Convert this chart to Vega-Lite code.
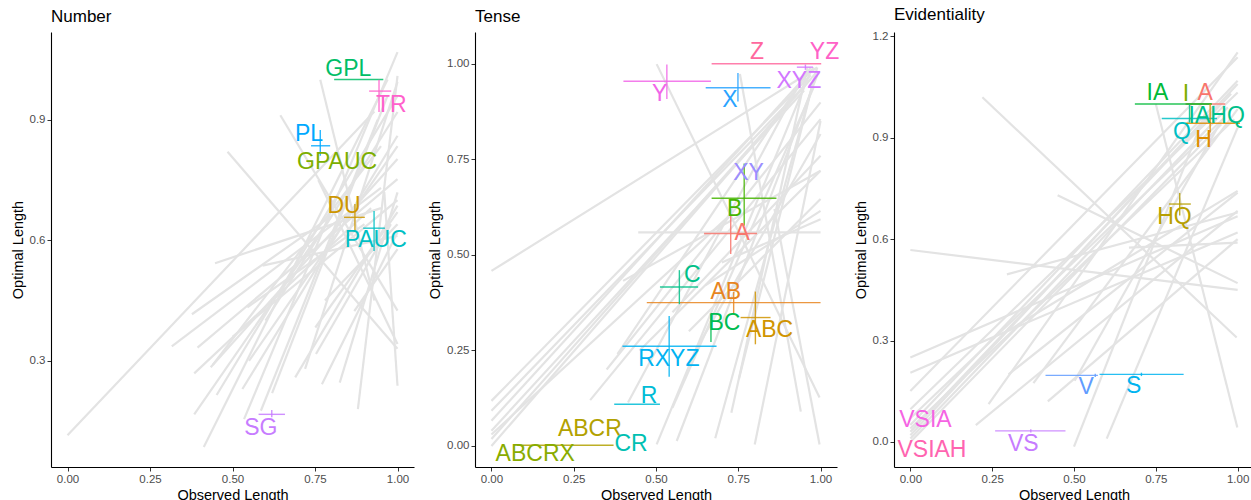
{
 "$schema": "https://vega.github.io/schema/vega-lite/v6.json",
 "padding": {"left": 10, "top": 6, "right": 0, "bottom": 0},
 "config": {
  "font": "Liberation Sans",
  "view": {"stroke": null},
  "axis": {"grid": false, "domainColor": "#000000", "domainWidth": 1.1, "tickColor": "#333333", "tickSize": 4, "labelColor": "#4D4D4D", "labelFontSize": 11.5, "titleFontSize": 14.5, "titleFontWeight": "normal", "titleColor": "#000000", "labelPadding": 2, "titlePadding": 4},
  "title": {"anchor": "start", "fontSize": 17, "fontWeight": "normal", "frame": "group", "offset": 6, "color": "#000000"},
  "concat": {"spacing": 13}
 },
 "datasets": {
  "l1": [
   {"x1":0.0,"y1":0.115,"x2":0.93,"y2":0.92},
   {"x1":0.316,"y1":0.336,"x2":0.95,"y2":0.73},
   {"x1":0.394,"y1":0.333,"x2":1.0,"y2":0.752},
   {"x1":0.384,"y1":0.269,"x2":0.92,"y2":0.68},
   {"x1":0.434,"y1":0.284,"x2":1.0,"y2":0.802},
   {"x1":0.44,"y1":0.29,"x2":0.95,"y2":0.834},
   {"x1":0.384,"y1":0.167,"x2":0.80,"y2":0.66},
   {"x1":0.452,"y1":0.215,"x2":1.0,"y2":0.959},
   {"x1":0.413,"y1":0.086,"x2":0.97,"y2":1.0},
   {"x1":0.53,"y1":0.23,"x2":1.0,"y2":0.86},
   {"x1":0.535,"y1":0.155,"x2":1.0,"y2":1.068},
   {"x1":0.586,"y1":0.176,"x2":0.94,"y2":0.90},
   {"x1":0.69,"y1":0.259,"x2":1.0,"y2":0.686},
   {"x1":0.771,"y1":0.242,"x2":1.0,"y2":0.62},
   {"x1":0.825,"y1":0.246,"x2":1.0,"y2":0.719},
   {"x1":0.88,"y1":0.18,"x2":1.0,"y2":1.009},
   {"x1":0.753,"y1":0.317,"x2":0.98,"y2":0.64},
   {"x1":0.751,"y1":0.383,"x2":1.0,"y2":0.67},
   {"x1":1.0,"y1":0.238,"x2":0.96,"y2":0.72},
   {"x1":1.0,"y1":0.342,"x2":0.76,"y2":0.75},
   {"x1":0.869,"y1":0.424,"x2":1.0,"y2":0.578},
   {"x1":0.447,"y1":0.543,"x2":0.95,"y2":0.68},
   {"x1":0.377,"y1":0.416,"x2":0.80,"y2":0.66},
   {"x1":0.545,"y1":0.433,"x2":0.9,"y2":0.64},
   {"x1":0.591,"y1":0.537,"x2":1.0,"y2":0.611},
   {"x1":0.485,"y1":0.82,"x2":1.0,"y2":0.33},
   {"x1":0.645,"y1":0.911,"x2":1.0,"y2":0.425},
   {"x1":0.766,"y1":0.999,"x2":0.93,"y2":0.45},
   {"x1":0.55,"y1":0.30,"x2":1.0,"y2":0.834},
   {"x1":0.60,"y1":0.40,"x2":1.0,"y2":0.919},
   {"x1":0.72,"y1":0.28,"x2":1.0,"y2":0.994},
   {"x1":0.62,"y1":0.22,"x2":0.97,"y2":0.96},
   {"x1":0.50,"y1":0.36,"x2":1.0,"y2":0.70},
   {"x1":0.78,"y1":0.45,"x2":1.0,"y2":0.64}
  ],
  "p1": [
   {"label":"DU","x":0.871,"y":0.657,"xmin":0.838,"xmax":0.901,"ymin":0.624,"ymax":0.69,"lx":0.838,"ly":0.685},
   {"label":"GPAUC","x":0.766,"y":0.835,"xmin":0.766,"xmax":0.766,"ymin":0.835,"ymax":0.835,"lx":0.817,"ly":0.795},
   {"label":"GPL","x":0.88,"y":1.0,"xmin":0.808,"xmax":0.957,"ymin":1.0,"ymax":1.0,"lx":0.851,"ly":1.026},
   {"label":"PAUC","x":0.929,"y":0.63,"xmin":0.896,"xmax":0.962,"ymin":0.573,"ymax":0.673,"lx":0.934,"ly":0.601},
   {"label":"PL","x":0.766,"y":0.835,"xmin":0.738,"xmax":0.796,"ymin":0.81,"ymax":0.874,"lx":0.732,"ly":0.864},
   {"label":"SG","x":0.619,"y":0.167,"xmin":0.579,"xmax":0.659,"ymin":0.16,"ymax":0.178,"lx":0.586,"ly":0.134},
   {"label":"TR","x":0.944,"y":0.971,"xmin":0.914,"xmax":0.981,"ymin":0.919,"ymax":0.999,"lx":0.981,"ly":0.937}
  ],
  "l2": [
   {"x1":0.0,"y1":0.458,"x2":0.99,"y2":0.99},
   {"x1":0.0,"y1":0.118,"x2":0.97,"y2":0.97},
   {"x1":0.0,"y1":0.092,"x2":0.96,"y2":0.95},
   {"x1":0.0,"y1":0.066,"x2":0.98,"y2":0.99},
   {"x1":0.0,"y1":0.04,"x2":0.95,"y2":0.93},
   {"x1":0.0,"y1":0.018,"x2":0.97,"y2":0.96},
   {"x1":0.0,"y1":0.0,"x2":0.99,"y2":0.98},
   {"x1":0.0,"y1":0.03,"x2":0.72,"y2":0.60},
   {"x1":0.502,"y1":0.004,"x2":0.97,"y2":0.98},
   {"x1":0.563,"y1":0.013,"x2":0.99,"y2":0.97},
   {"x1":0.729,"y1":0.087,"x2":0.96,"y2":0.99},
   {"x1":0.752,"y1":0.175,"x2":0.98,"y2":0.96},
   {"x1":0.415,"y1":0.114,"x2":0.95,"y2":0.97},
   {"x1":0.383,"y1":0.24,"x2":0.97,"y2":0.99},
   {"x1":0.40,"y1":0.432,"x2":1.0,"y2":0.72},
   {"x1":0.446,"y1":0.559,"x2":1.0,"y2":0.559},
   {"x1":0.502,"y1":0.999,"x2":0.997,"y2":0.127},
   {"x1":0.755,"y1":0.973,"x2":0.94,"y2":0.09},
   {"x1":0.80,"y1":0.004,"x2":1.0,"y2":0.85},
   {"x1":0.997,"y1":0.004,"x2":0.86,"y2":0.62},
   {"x1":0.60,"y1":0.30,"x2":1.0,"y2":0.646},
   {"x1":0.55,"y1":0.35,"x2":1.0,"y2":0.759},
   {"x1":0.45,"y1":0.25,"x2":1.0,"y2":0.72},
   {"x1":0.65,"y1":0.42,"x2":1.0,"y2":0.615},
   {"x1":0.70,"y1":0.48,"x2":1.0,"y2":0.593},
   {"x1":0.30,"y1":0.12,"x2":1.0,"y2":0.855},
   {"x1":0.35,"y1":0.20,"x2":1.0,"y2":0.899},
   {"x1":0.62,"y1":0.25,"x2":1.0,"y2":0.816},
   {"x1":0.55,"y1":0.10,"x2":0.98,"y2":0.94},
   {"x1":0.68,"y1":0.02,"x2":0.99,"y2":0.99}
  ],
  "p2": [
   {"label":"A","x":0.727,"y":0.556,"xmin":0.646,"xmax":0.807,"ymin":0.502,"ymax":0.602,"lx":0.762,"ly":0.557},
   {"label":"AB","x":0.736,"y":0.375,"xmin":0.472,"xmax":1.0,"ymin":0.345,"ymax":0.403,"lx":0.712,"ly":0.404},
   {"label":"ABC","x":0.802,"y":0.336,"xmin":0.757,"xmax":0.848,"ymin":0.266,"ymax":0.404,"lx":0.845,"ly":0.303},
   {"label":"ABCR","x":0.23,"y":0.002,"xmin":0.078,"xmax":0.371,"ymin":0.002,"ymax":0.002,"lx":0.299,"ly":0.045},
   {"label":"ABCRX","x":0.02,"y":0.0,"xmin":0.02,"xmax":0.02,"ymin":0.0,"ymax":0.0,"lx":0.133,"ly":-0.02},
   {"label":"B","x":0.768,"y":0.648,"xmin":0.669,"xmax":0.866,"ymin":0.576,"ymax":0.739,"lx":0.739,"ly":0.621},
   {"label":"BC","x":0.667,"y":0.309,"xmin":0.667,"xmax":0.667,"ymin":0.272,"ymax":0.345,"lx":0.708,"ly":0.323},
   {"label":"C","x":0.571,"y":0.416,"xmin":0.512,"xmax":0.628,"ymin":0.371,"ymax":0.46,"lx":0.61,"ly":0.446},
   {"label":"CR","x":0.37,"y":0.002,"xmin":0.37,"xmax":0.37,"ymin":0.002,"ymax":0.002,"lx":0.424,"ly":0.006},
   {"label":"R","x":0.441,"y":0.109,"xmin":0.373,"xmax":0.512,"ymin":0.109,"ymax":0.109,"lx":0.479,"ly":0.13},
   {"label":"RXYZ","x":0.54,"y":0.261,"xmin":0.398,"xmax":0.684,"ymin":0.181,"ymax":0.34,"lx":0.539,"ly":0.228},
   {"label":"X","x":0.749,"y":0.937,"xmin":0.651,"xmax":0.848,"ymin":0.901,"ymax":0.976,"lx":0.725,"ly":0.906},
   {"label":"XY","x":0.77,"y":0.74,"xmin":0.77,"xmax":0.77,"ymin":0.74,"ymax":0.74,"lx":0.781,"ly":0.715},
   {"label":"XYZ","x":0.954,"y":0.991,"xmin":0.928,"xmax":0.977,"ymin":0.984,"ymax":0.998,"lx":0.934,"ly":0.955},
   {"label":"Y","x":0.533,"y":0.954,"xmin":0.401,"xmax":0.667,"ymin":0.908,"ymax":0.998,"lx":0.511,"ly":0.921},
   {"label":"YZ","x":1.0,"y":1.0,"xmin":1.0,"xmax":1.0,"ymin":1.0,"ymax":1.0,"lx":1.012,"ly":1.03},
   {"label":"Z","x":0.83,"y":1.0,"xmin":0.669,"xmax":1.002,"ymin":1.0,"ymax":1.0,"lx":0.807,"ly":1.03}
  ],
  "l3": [
   {"x1":0.22,"y1":1.02,"x2":0.997,"y2":0.309},
   {"x1":0.0,"y1":0.568,"x2":1.0,"y2":0.45},
   {"x1":0.295,"y1":0.496,"x2":1.0,"y2":0.679},
   {"x1":0.0,"y1":0.25,"x2":1.0,"y2":0.668},
   {"x1":0.0,"y1":0.205,"x2":1.0,"y2":0.62},
   {"x1":0.0,"y1":0.151,"x2":1.0,"y2":1.138},
   {"x1":0.239,"y1":0.112,"x2":1.0,"y2":1.153},
   {"x1":0.376,"y1":0.174,"x2":1.0,"y2":0.985},
   {"x1":0.5,"y1":-0.014,"x2":0.9,"y2":0.97},
   {"x1":0.6,"y1":0.01,"x2":1.0,"y2":0.93},
   {"x1":0.75,"y1":1.0,"x2":0.999,"y2":0.043},
   {"x1":0.502,"y1":0.181,"x2":0.95,"y2":0.95},
   {"x1":0.668,"y1":0.575,"x2":1.0,"y2":0.59},
   {"x1":0.3,"y1":0.33,"x2":1.0,"y2":0.743},
   {"x1":0.45,"y1":0.73,"x2":1.0,"y2":0.47},
   {"x1":0.0,"y1":0.097,"x2":1.0,"y2":1.034},
   {"x1":0.0,"y1":0.01,"x2":0.97,"y2":0.99},
   {"x1":0.0,"y1":0.03,"x2":0.98,"y2":1.03},
   {"x1":0.0,"y1":0.05,"x2":1.0,"y2":1.069},
   {"x1":0.0,"y1":0.07,"x2":0.96,"y2":0.96},
   {"x1":0.0,"y1":0.02,"x2":1.0,"y2":1.059},
   {"x1":0.0,"y1":0.0,"x2":0.95,"y2":0.94},
   {"x1":0.0,"y1":0.04,"x2":0.99,"y2":0.955},
   {"x1":0.3,"y1":0.2,"x2":1.0,"y2":0.738},
   {"x1":0.42,"y1":0.12,"x2":1.0,"y2":0.60},
   {"x1":0.2,"y1":0.05,"x2":1.0,"y2":0.684}
  ],
  "p3": [
   {"label":"A","x":0.9,"y":1.0,"xmin":0.84,"xmax":0.962,"ymin":1.0,"ymax":1.0,"lx":0.901,"ly":1.032},
   {"label":"H","x":0.916,"y":0.943,"xmin":0.84,"xmax":1.007,"ymin":0.916,"ymax":1.0,"lx":0.896,"ly":0.893},
   {"label":"HQ","x":0.823,"y":0.704,"xmin":0.79,"xmax":0.857,"ymin":0.67,"ymax":0.737,"lx":0.807,"ly":0.666},
   {"label":"I","x":0.843,"y":1.0,"xmin":0.843,"xmax":0.92,"ymin":1.0,"ymax":1.0,"lx":0.842,"ly":1.029},
   {"label":"IA","x":0.8,"y":1.0,"xmin":0.686,"xmax":0.921,"ymin":1.0,"ymax":1.0,"lx":0.755,"ly":1.034},
   {"label":"IAHQ","x":0.853,"y":0.96,"xmin":0.853,"xmax":0.853,"ymin":0.945,"ymax":0.999,"lx":0.936,"ly":0.963},
   {"label":"Q","x":0.85,"y":0.957,"xmin":0.768,"xmax":0.937,"ymin":0.957,"ymax":0.957,"lx":0.83,"ly":0.918},
   {"label":"S","x":0.706,"y":0.2,"xmin":0.578,"xmax":0.835,"ymin":0.195,"ymax":0.205,"lx":0.682,"ly":0.166},
   {"label":"V","x":0.565,"y":0.197,"xmin":0.413,"xmax":0.573,"ymin":0.192,"ymax":0.202,"lx":0.537,"ly":0.164},
   {"label":"VS","x":0.368,"y":0.033,"xmin":0.259,"xmax":0.474,"ymin":0.028,"ymax":0.038,"lx":0.345,"ly":-0.005},
   {"label":"VSIA","x":0.0,"y":0.02,"xmin":0.0,"xmax":0.0,"ymin":0.02,"ymax":0.02,"lx":0.046,"ly":0.065},
   {"label":"VSIAH","x":0.0,"y":0.0,"xmin":0.0,"xmax":0.0,"ymin":0.0,"ymax":0.0,"lx":0.066,"ly":-0.024}
  ]
 },
 "hconcat": [
  {
   "title": "Number",
   "width": 363, "height": 435,
   "layer": [
    {"data": {"name": "l1"}, "mark": {"type": "rule", "color": "#E3E3E3", "strokeWidth": 2.2},
     "encoding": {
      "x": {"field": "x1", "type": "quantitative", "title": "Observed Length", "scale": {"domain": [-0.05, 1.05], "nice": false, "zero": false}, "axis": {"values": [0, 0.25, 0.5, 0.75, 1], "format": ".2f"}},
      "x2": {"field": "x2"},
      "y": {"field": "y1", "type": "quantitative", "title": "Optimal Length", "scale": {"domain": [0.036, 1.118], "nice": false, "zero": false}, "axis": {"values": [0.3, 0.6, 0.9], "format": ".1f"}},
      "y2": {"field": "y2"}}},
    {"data": {"name": "p1"}, "mark": {"type": "rule", "strokeWidth": 1.4, "opacity": 0.85},
     "encoding": {
      "x": {"field": "xmin", "type": "quantitative", "title": "Observed Length"}, "x2": {"field": "xmax"},
      "y": {"field": "y", "type": "quantitative", "title": "Optimal Length"},
      "color": {"field": "label", "type": "nominal", "legend": null, "scale": {"domain": ["DU","GPAUC","GPL","PAUC","PL","SG","TR","A","AB","ABC","ABCR","ABCRX","B","BC","C","CR","R","RXYZ","X","XY","XYZ","Y","YZ","Z","H","HQ","I","IA","IAHQ","Q","S","V","VS","VSIA","VSIAH"], "range": ["#CD9600","#7CAE00","#00BE67","#00BFC4","#00A9FF","#C77CFF","#FF61CC","#F8766D","#E7851E","#D09400","#B2A100","#89AC00","#45B500","#00BC51","#00C087","#00C0B2","#00BCD6","#00B3F2","#29A3FF","#9C8DFF","#D277FF","#F166E8","#FF61C7","#FF689E","#DE8C00","#B79F00","#7CAE00","#00BA38","#00C08B","#00BFC4","#00B4F0","#619CFF","#C77CFF","#F564E3","#FF64B0"]}}}},
    {"data": {"name": "p1"}, "mark": {"type": "rule", "strokeWidth": 1.4, "opacity": 0.85},
     "encoding": {
      "x": {"field": "x", "type": "quantitative", "title": "Observed Length"},
      "y": {"field": "ymin", "type": "quantitative", "title": "Optimal Length"}, "y2": {"field": "ymax"},
      "color": {"field": "label", "type": "nominal", "legend": null}}},
    {"data": {"name": "p1"}, "mark": {"type": "text", "fontSize": 23, "font": "Liberation Sans"},
     "encoding": {
      "x": {"field": "lx", "type": "quantitative", "title": "Observed Length"},
      "y": {"field": "ly", "type": "quantitative", "title": "Optimal Length"},
      "text": {"field": "label"},
      "color": {"field": "label", "type": "nominal", "legend": null}}}
   ]
  },
  {
   "title": "Tense",
   "width": 362, "height": 435,
   "layer": [
    {"data": {"name": "l2"}, "mark": {"type": "rule", "color": "#E3E3E3", "strokeWidth": 2.2},
     "encoding": {
      "x": {"field": "x1", "type": "quantitative", "title": "Observed Length", "scale": {"domain": [-0.05, 1.05], "nice": false, "zero": false}, "axis": {"values": [0, 0.25, 0.5, 0.75, 1], "format": ".2f"}},
      "x2": {"field": "x2"},
      "y": {"field": "y1", "type": "quantitative", "title": "Optimal Length", "scale": {"domain": [-0.055, 1.083], "nice": false, "zero": false}, "axis": {"values": [0, 0.25, 0.5, 0.75, 1], "format": ".2f"}},
      "y2": {"field": "y2"}}},
    {"data": {"name": "p2"}, "mark": {"type": "rule", "strokeWidth": 1.4, "opacity": 0.85},
     "encoding": {
      "x": {"field": "xmin", "type": "quantitative", "title": "Observed Length"}, "x2": {"field": "xmax"},
      "y": {"field": "y", "type": "quantitative", "title": "Optimal Length"},
      "color": {"field": "label", "type": "nominal", "legend": null}}},
    {"data": {"name": "p2"}, "mark": {"type": "rule", "strokeWidth": 1.4, "opacity": 0.85},
     "encoding": {
      "x": {"field": "x", "type": "quantitative", "title": "Observed Length"},
      "y": {"field": "ymin", "type": "quantitative", "title": "Optimal Length"}, "y2": {"field": "ymax"},
      "color": {"field": "label", "type": "nominal", "legend": null}}},
    {"data": {"name": "p2"}, "mark": {"type": "text", "fontSize": 23, "font": "Liberation Sans"},
     "encoding": {
      "x": {"field": "lx", "type": "quantitative", "title": "Observed Length"},
      "y": {"field": "ly", "type": "quantitative", "title": "Optimal Length"},
      "text": {"field": "label"},
      "color": {"field": "label", "type": "nominal", "legend": null}}}
   ]
  },
  {
   "title": "Evidentiality",
   "width": 360, "height": 435,
   "layer": [
    {"data": {"name": "l3"}, "mark": {"type": "rule", "color": "#E3E3E3", "strokeWidth": 2.2},
     "encoding": {
      "x": {"field": "x1", "type": "quantitative", "title": "Observed Length", "scale": {"domain": [-0.05, 1.05], "nice": false, "zero": false}, "axis": {"values": [0, 0.25, 0.5, 0.75, 1], "format": ".2f"}},
      "x2": {"field": "x2"},
      "y": {"field": "y1", "type": "quantitative", "title": "Optimal Length", "scale": {"domain": [-0.074, 1.213], "nice": false, "zero": false}, "axis": {"values": [0, 0.3, 0.6, 0.9, 1.2], "format": ".1f"}},
      "y2": {"field": "y2"}}},
    {"data": {"name": "p3"}, "mark": {"type": "rule", "strokeWidth": 1.4, "opacity": 0.85},
     "encoding": {
      "x": {"field": "xmin", "type": "quantitative", "title": "Observed Length"}, "x2": {"field": "xmax"},
      "y": {"field": "y", "type": "quantitative", "title": "Optimal Length"},
      "color": {"field": "label", "type": "nominal", "legend": null}}},
    {"data": {"name": "p3"}, "mark": {"type": "rule", "strokeWidth": 1.4, "opacity": 0.85},
     "encoding": {
      "x": {"field": "x", "type": "quantitative", "title": "Observed Length"},
      "y": {"field": "ymin", "type": "quantitative", "title": "Optimal Length"}, "y2": {"field": "ymax"},
      "color": {"field": "label", "type": "nominal", "legend": null}}},
    {"data": {"name": "p3"}, "mark": {"type": "text", "fontSize": 23, "font": "Liberation Sans"},
     "encoding": {
      "x": {"field": "lx", "type": "quantitative", "title": "Observed Length"},
      "y": {"field": "ly", "type": "quantitative", "title": "Optimal Length"},
      "text": {"field": "label"},
      "color": {"field": "label", "type": "nominal", "legend": null}}}
   ]
  }
 ]
}
